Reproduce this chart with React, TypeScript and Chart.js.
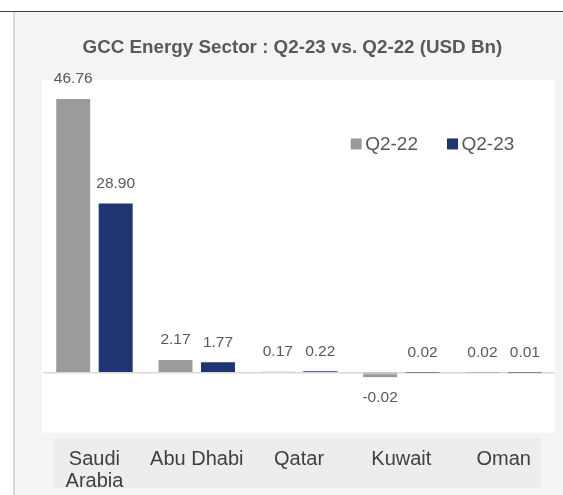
import { useEffect, useRef } from "react";
import { Chart, registerables } from "chart.js";

Chart.register(...registerables);

const categories: (string | string[])[] = [["Saudi", "Arabia"], "Abu Dhabi", "Qatar", "Kuwait", "Oman"];
const seriesNames = ["Q2-22", "Q2-23"];
const q222Values = [46.76, 2.17, 0.17, -0.02, 0.02];
const q223Values = [28.9, 1.77, 0.22, 0.02, 0.01];
const seriesColors = ["#9b9b9b", "#1f3470"];
const yMin = -10;
const yMax = 50;
const yStep = 10;
const titleText = "GCC Energy Sector : Q2-23 vs. Q2-22 (USD Bn)";

const FONT = "'Liberation Sans', Arial, sans-serif";

const panelPlugin = {
  id: "panelBg",
  beforeDraw(chart: any) {
    const { ctx, chartArea: a, width, height } = chart;
    ctx.save();
    ctx.fillStyle = "#f4f4f4";
    ctx.fillRect(0, 0, width, height);
    ctx.fillStyle = "#ffffff";
    ctx.fillRect(a.left - 1.5, a.top, a.right - a.left + 1.5, a.bottom - a.top + 1.5);
    ctx.fillStyle = "#ededed";
    ctx.fillRect(a.left + 10.4, a.bottom + 6.5, a.right - a.left - 24.5, 50.3);
    ctx.restore();
  },
};

const labelPlugin = {
  id: "valueLabels",
  afterDraw(chart: any) {
    const { ctx } = chart;
    ctx.save();
    ctx.font = `15.5px ${FONT}`;
    ctx.textAlign = "center";
    ctx.textBaseline = "middle";
    chart.data.datasets.forEach((ds: any, di: number) => {
      const meta = chart.getDatasetMeta(di);
      meta.data.forEach((bar: any, i: number) => {
        const v = ds.data[i] as number;
        const { x, y, base, width } = bar.getProps(["x", "y", "base", "width"], true);
        let end = y;
        if (v < 0 && Math.abs(base - y) < 3) {
          ctx.fillStyle = ds.backgroundColor;
          ctx.fillRect(x - width / 2, base + 0.75, width, 3);
          end = base + 3.75;
        }
        ctx.fillStyle = "#595959";
        const ty = v < 0 ? end + 21 : y - 20;
        ctx.fillText(v.toFixed(2), x, ty);
      });
    });
    ctx.restore();
  },
};

const legendPlugin = {
  id: "innerLegend",
  afterDraw(chart: any) {
    const { ctx, chartArea: a } = chart;
    ctx.save();
    ctx.font = `19px ${FONT}`;
    ctx.textBaseline = "middle";
    ctx.textAlign = "left";
    let x = a.left + 307.4;
    const cy = a.top + 64;
    chart.data.datasets.forEach((ds: any) => {
      ctx.fillStyle = ds.backgroundColor;
      ctx.fillRect(x, cy - 5.5, 11, 11);
      x += 14.5;
      ctx.fillStyle = "#595959";
      ctx.fillText(ds.label, x, cy + 1);
      x += ctx.measureText(ds.label).width + 29;
    });
    ctx.restore();
  },
};

export default function App() {
  const canvasRef = useRef<HTMLCanvasElement | null>(null);

  useEffect(() => {
    if (!canvasRef.current) return;
    const chart = new Chart(canvasRef.current, {
      type: "bar",
      data: {
        labels: categories,
        datasets: [
          {
            label: seriesNames[0],
            data: q222Values,
            backgroundColor: seriesColors[0],
            barPercentage: 0.8,
            categoryPercentage: 0.83,
          },
          {
            label: seriesNames[1],
            data: q223Values,
            backgroundColor: seriesColors[1],
            barPercentage: 0.8,
            categoryPercentage: 0.83,
          },
        ],
      },
      options: {
        responsive: false,
        animation: false,
        devicePixelRatio: 1,
        layout: { padding: { left: 15, right: 8.2, top: 0, bottom: 3.8 } },
        plugins: {
          legend: { display: false },
          tooltip: { enabled: false },
          title: {
            display: true,
            text: titleText,
            color: "#595959",
            font: { family: FONT, size: 18.8, weight: "bold", lineHeight: 1.2 },
            padding: { top: 24.2, bottom: 21.2 },
          },
        },
        scales: {
          x: {
            grid: { display: false },
            border: { display: false },
            ticks: {
              color: "#404040",
              font: { family: FONT, size: 20, lineHeight: 1.1 },
              padding: 8.8,
              autoSkip: false,
              maxRotation: 0,
              minRotation: 0,
            },
            afterFit(scale: any) {
              scale.height = 60;
            },
          },
          y: {
            min: yMin,
            max: yMax,
            z: 1,
            ticks: { display: false, stepSize: yStep },
            border: { display: false },
            grid: {
              drawTicks: false,
              lineWidth: 1.5,
              color: (c: any) => (c.tick && c.tick.value === 0 ? "#d9d9d9" : "rgba(0,0,0,0)"),
            },
            afterFit(scale: any) {
              scale.width = 13.3;
            },
          },
        },
      },
      plugins: [panelPlugin, labelPlugin, legendPlugin],
    });
    return () => chart.destroy();
  }, []);

  return (
    <div style={{ position: "absolute", left: 0, top: 0, width: 563, height: 495, background: "#ffffff", overflow: "hidden" }}>
      <div style={{ position: "absolute", left: 0, top: 11, width: 563, height: 1, background: "#404040" }} />
      <div style={{ position: "absolute", left: 13, top: 12, width: 2, height: 483, background: "#d8d8d8" }} />
      <div style={{ position: "absolute", left: 15, top: 12, width: 548, height: 483 }}>
        <canvas ref={canvasRef} width={548} height={483} style={{ display: "block" }} />
      </div>
    </div>
  );
}
